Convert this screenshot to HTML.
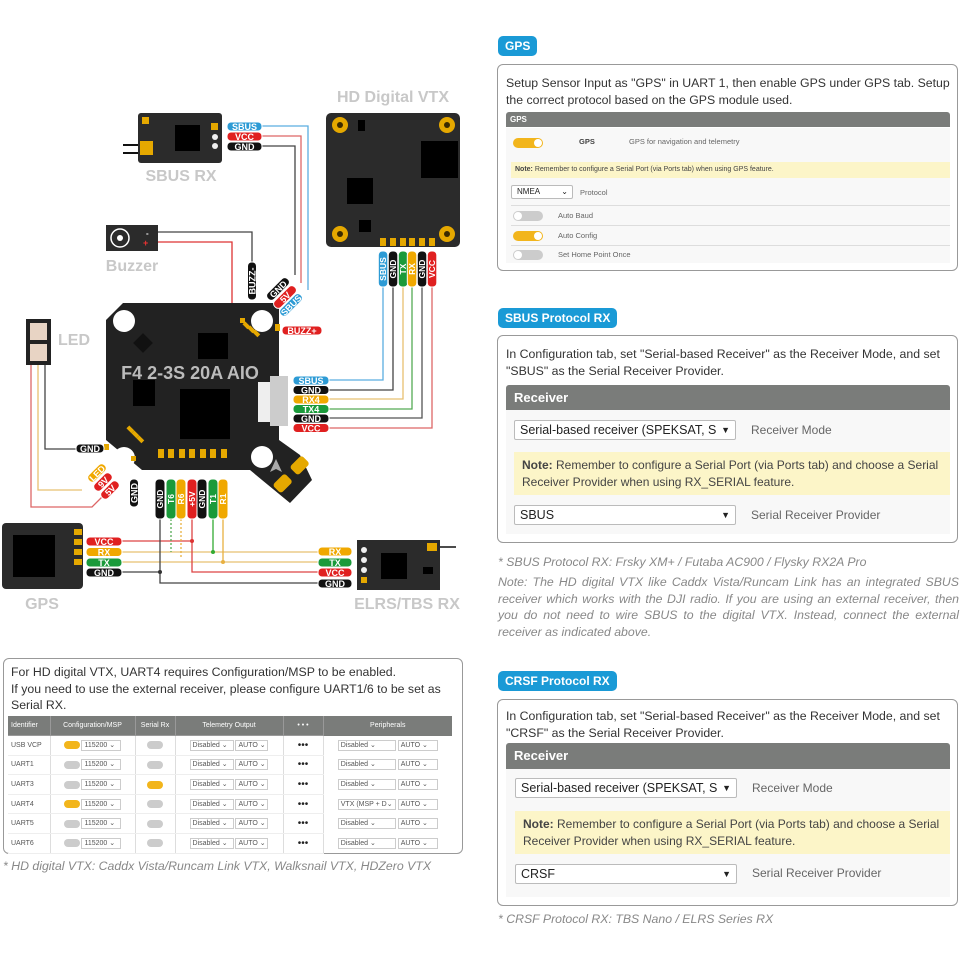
<!DOCTYPE html>
<html><head><meta charset="utf-8">
<style>
*{margin:0;padding:0;box-sizing:border-box}
body{width:960px;height:960px;background:#fff;position:relative;overflow:hidden;font-family:"Liberation Sans",sans-serif;color:#333}
.a{position:absolute}
.badge{position:absolute;background:#1a9ad6;color:#fff;font-weight:bold;font-size:12px;border-radius:5px;padding:3px 7px;line-height:14px}
.box{position:absolute;border:1px solid #999;border-radius:6px;background:#fff}
.p{position:absolute;font-size:12.3px;line-height:16.5px;color:#333}
.hdr{position:absolute;background:#7a7c7a;color:#fff;font-weight:bold;border-radius:3px 3px 0 0}
.sel{position:absolute;border:1px solid #bbb;background:#fff;font-size:12.5px;color:#222;padding-left:5px;border-radius:2px}
.note{position:absolute;background:#fcf5c8;color:#444}
.lbl{position:absolute;color:#666}
.tg{position:absolute;width:30px;height:10px;border-radius:5px;background:#ccc}
.tg.on{background:#f2b51c}
.tg::after{content:"";position:absolute;top:1px;width:8px;height:8px;border-radius:4px;background:#fff;left:1px}
.tg.on::after{left:21px}
.it{position:absolute;font-style:italic;color:#888;font-size:12.3px}
table{border-collapse:collapse;font-size:7px;color:#555;table-layout:fixed}
td{border-right:1px solid #ddd;text-align:center;height:19.6px;border-bottom:1px solid #eee;white-space:nowrap;overflow:hidden;padding:0}
.ms{display:inline-block;border:1px solid #ccc;font-size:7px;padding:0 2px;line-height:10px;height:11px;text-align:left;white-space:nowrap;overflow:hidden;vertical-align:middle}
.st{display:inline-block;width:16px;height:8px;border-radius:4px;background:#ccc;vertical-align:middle;position:relative}
.st.on{background:#f2b51c}
</style></head><body>

<svg class="a" style="left:0;top:0" width="480" height="620" viewBox="0 0 480 620" font-family="Liberation Sans, sans-serif" font-weight="bold">
<g fill="none" stroke-width="1.3">
 <polyline points="262,126 308,126 308,290" stroke="#5aaee0"/>
 <polyline points="262,136 301,136 301,283" stroke="#d66"/>
 <polyline points="262,146 295,146 295,275" stroke="#444"/>
 <polyline points="158,232 252,232 252,262" stroke="#444"/>
 <polyline points="158,242 232,242 232,349 276,349 276,304" stroke="#d33"/>
 <polyline points="329,380 383,380 383,287" stroke="#5aaee0"/>
 <polyline points="329,390 393,390 393,287" stroke="#444"/>
 <polyline points="329,399 403,399 403,287" stroke="#e8c070"/>
 <polyline points="329,409 412,409 412,287" stroke="#5a5"/>
 <polyline points="329,418 422,418 422,287" stroke="#555"/>
 <polyline points="329,428 432,428 432,287" stroke="#d66"/>
 <polyline points="45,365 45,449 76,449" stroke="#444"/>
 <polyline points="38,365 38,490 82,490" stroke="#e8c070"/>
 <polyline points="31,365 31,507 92,507 104,495" stroke="#d66"/>
 <polyline points="122,541 192,541" stroke="#d44"/>
 <polyline points="122,552 318,552" stroke="#e8c070"/>
 <polyline points="122,562 318,562" stroke="#e8c070"/>
 <polyline points="122,572 160,572" stroke="#444"/>
 <polyline points="192,519 192,572 318,572" stroke="#d44"/>
 <polyline points="160,519 160,583 318,583" stroke="#444"/>
 <polyline points="213,519 213,552" stroke="#3a3"/>
 <polyline points="223,519 223,562" stroke="#e8b040"/>
 <line x1="171" y1="519" x2="171" y2="552" stroke="#5a5" stroke-dasharray="2,2"/>
 <line x1="181" y1="519" x2="181" y2="559" stroke="#e8b040" stroke-dasharray="2,2"/>
</g>
<g fill="#333"><circle cx="192" cy="541" r="2" fill="#d33"/><circle cx="160" cy="572" r="2"/><circle cx="213" cy="552" r="2" fill="#3a3"/><circle cx="223" cy="562" r="2" fill="#e8b040"/></g>

<line x1="123" y1="145" x2="142" y2="145" stroke="#111" stroke-width="2"/>
<line x1="123" y1="153" x2="142" y2="153" stroke="#111" stroke-width="2"/>
<rect x="138" y="113" width="84" height="50" rx="3" fill="#2b2b2b"/>
<rect x="140" y="141" width="13" height="14" fill="#e5a800"/>
<rect x="142" y="117" width="7" height="7" fill="#e5a800"/>
<rect x="175" y="125" width="25" height="26" fill="#000"/>
<rect x="211" y="123" width="7" height="7" fill="#e5a800"/>
<circle cx="215" cy="137" r="3" fill="#eee"/><circle cx="215" cy="146" r="3" fill="#eee"/>
<text x="181" y="181" font-size="16" fill="#c8c8c8" text-anchor="middle">SBUS RX</text>

<text x="393" y="102" font-size="16" fill="#c8c8c8" text-anchor="middle">HD Digital VTX</text>
<rect x="326" y="113" width="134" height="134" rx="5" fill="#2b2b2b"/>
<g fill="#e5a800"><circle cx="340" cy="125" r="8"/><circle cx="447" cy="125" r="8"/><circle cx="340" cy="234" r="8"/><circle cx="447" cy="234" r="8"/></g>
<g fill="#3a2a00"><circle cx="340" cy="125" r="3"/><circle cx="447" cy="125" r="3"/><circle cx="340" cy="234" r="3"/><circle cx="447" cy="234" r="3"/></g>
<rect x="421" y="141" width="37" height="37" fill="#000"/>
<rect x="347" y="178" width="26" height="26" fill="#000"/>
<rect x="358" y="120" width="7" height="11" fill="#000"/>
<rect x="359" y="220" width="12" height="12" fill="#000"/>
<g fill="#e5a800"><rect x="380" y="238" width="6" height="8"/><rect x="390" y="238" width="6" height="8"/><rect x="400" y="238" width="6" height="8"/><rect x="409" y="238" width="6" height="8"/><rect x="419" y="238" width="6" height="8"/><rect x="429" y="238" width="6" height="8"/></g>

<rect x="106" y="225" width="52" height="26" fill="#2b2b2b"/>
<circle cx="120" cy="238" r="9" fill="none" stroke="#fff" stroke-width="1.5"/>
<circle cx="120" cy="238" r="3" fill="#fff"/>
<text x="146" y="236" font-size="8" fill="#fff">-</text><text x="143" y="246" font-size="9" fill="#e33">+</text>
<text x="132" y="271" font-size="16" fill="#c8c8c8" text-anchor="middle">Buzzer</text>

<rect x="26" y="319" width="25" height="46" fill="#222"/>
<rect x="30" y="323" width="17" height="17" fill="#e8d4c4"/><rect x="30" y="344" width="17" height="17" fill="#e8d4c4"/>
<text x="58" y="345" font-size="16" fill="#c8c8c8">LED</text>

<polygon points="123,303 279,303 279,440 300,455 312,480 290,503 262,480 250,470 142,470 106,440 106,320" fill="#222"/>
<g fill="#fff"><circle cx="124" cy="321" r="11"/><circle cx="262" cy="321" r="11"/><circle cx="124" cy="458" r="11"/><circle cx="262" cy="457" r="11"/></g>
<rect x="198" y="333" width="30" height="26" fill="#000"/>
<rect x="180" y="389" width="50" height="50" fill="#000"/>
<rect x="133" y="380" width="22" height="26" fill="#000"/>
<rect x="136" y="336" width="14" height="14" fill="#111" transform="rotate(45 143 343)"/>
<rect x="258" y="382" width="12" height="40" fill="#eee"/>
<rect x="270" y="376" width="18" height="50" fill="#ccc"/>
<g fill="#e5a800"><rect x="158" y="449" width="6" height="9"/><rect x="168" y="449" width="6" height="9"/><rect x="179" y="449" width="6" height="9"/><rect x="189" y="449" width="6" height="9"/><rect x="200" y="449" width="6" height="9"/><rect x="210" y="449" width="6" height="9"/><rect x="221" y="449" width="6" height="9"/>
<rect x="294" y="457" width="12" height="17" rx="3" transform="rotate(45 300 465)"/><rect x="277" y="475" width="12" height="17" rx="3" transform="rotate(45 283 483)"/>
<rect x="240" y="318" width="5" height="5"/><rect x="275" y="324" width="5" height="7"/><rect x="104" y="444" width="5" height="6"/><rect x="131" y="456" width="5" height="5"/>
<rect x="244" y="322" width="4" height="7" transform="rotate(-45 246 325)"/><rect x="249" y="326" width="4" height="7" transform="rotate(-45 251 329)"/><rect x="254" y="330" width="4" height="7" transform="rotate(-45 256 333)"/>
<rect x="128" y="426" width="4" height="7" transform="rotate(-45 130 429)"/><rect x="133" y="431" width="4" height="7" transform="rotate(-45 135 434)"/><rect x="138" y="436" width="4" height="7" transform="rotate(-45 140 439)"/></g>
<polygon points="276,459 282,472 276,469 270,472" fill="#aaa"/>
<text x="190" y="379" font-size="18" fill="#bbb" text-anchor="middle">F4 2-3S 20A AIO</text>

<g font-size="9" fill="#fff" text-anchor="middle" stroke-linejoin="round">
 <rect x="227" y="122" width="35" height="9" rx="4" fill="#2d9bd5" stroke="#fff"/><text x="244.5" y="130">SBUS</text>
 <rect x="227" y="132" width="35" height="9" rx="4" fill="#e02020" stroke="#fff"/><text x="244.5" y="140">VCC</text>
 <rect x="227" y="142" width="35" height="9" rx="4" fill="#111" stroke="#fff"/><text x="244.5" y="150">GND</text>

 <rect x="293" y="376" width="36" height="9" rx="4" fill="#2d9bd5" stroke="#fff"/><text x="311" y="384">SBUS</text>
 <rect x="293" y="385.5" width="36" height="9" rx="4" fill="#111" stroke="#fff"/><text x="311" y="393.5">GND</text>
 <rect x="293" y="395" width="36" height="9" rx="4" fill="#f0a800" stroke="#fff"/><text x="311" y="403">RX4</text>
 <rect x="293" y="404.5" width="36" height="9" rx="4" fill="#1a9a3a" stroke="#fff"/><text x="311" y="412.5">TX4</text>
 <rect x="293" y="414" width="36" height="9" rx="4" fill="#111" stroke="#fff"/><text x="311" y="422">GND</text>
 <rect x="293" y="423.5" width="36" height="9" rx="4" fill="#e02020" stroke="#fff"/><text x="311" y="431.5">VCC</text>

 <rect x="86" y="537" width="36" height="9" rx="4" fill="#e02020" stroke="#fff"/><text x="104" y="545">VCC</text>
 <rect x="86" y="547.5" width="36" height="9" rx="4" fill="#f0a800" stroke="#fff"/><text x="104" y="555.5">RX</text>
 <rect x="86" y="558" width="36" height="9" rx="4" fill="#1a9a3a" stroke="#fff"/><text x="104" y="566">TX</text>
 <rect x="86" y="568" width="36" height="9" rx="4" fill="#111" stroke="#fff"/><text x="104" y="576">GND</text>

 <rect x="318" y="547" width="34" height="9" rx="4" fill="#f0a800" stroke="#fff"/><text x="335" y="555">RX</text>
 <rect x="318" y="558" width="34" height="9" rx="4" fill="#1a9a3a" stroke="#fff"/><text x="335" y="566">TX</text>
 <rect x="318" y="568" width="34" height="9" rx="4" fill="#e02020" stroke="#fff"/><text x="335" y="576">VCC</text>
 <rect x="318" y="579" width="34" height="9" rx="4" fill="#111" stroke="#fff"/><text x="335" y="587">GND</text>

 <rect x="76" y="444" width="28" height="9" rx="4" fill="#111" stroke="#fff"/><text x="90" y="452">GND</text>
 <rect x="282" y="326" width="40" height="9" rx="4" fill="#e02020" stroke="#fff"/><text x="302" y="334">BUZZ+</text>

 <g transform="rotate(-90 252 281)"><rect x="233" y="276.5" width="38" height="9" rx="4" fill="#111" stroke="#fff"/><text x="252" y="284.5">BUZZ-</text></g>
 <g transform="rotate(-90 134 493)"><rect x="120" y="488.5" width="28" height="9" rx="4" fill="#111" stroke="#fff"/><text x="134" y="496.5">GND</text></g>

 <g transform="rotate(-45 278 289)"><rect x="264" y="284.5" width="28" height="9" rx="4" fill="#111" stroke="#fff"/><text x="278" y="292.5">GND</text></g>
 <g transform="rotate(-45 285 297)"><rect x="271" y="292.5" width="28" height="9" rx="4" fill="#e02020" stroke="#fff"/><text x="285" y="300.5">5V</text></g>
 <g transform="rotate(-45 291 305)"><rect x="277" y="300.5" width="28" height="9" rx="4" fill="#2d9bd5" stroke="#fff"/><text x="291" y="308.5">SBUS</text></g>

 <g transform="rotate(-45 97 473)"><rect x="86" y="468.5" width="22" height="9" rx="4" fill="#f0a800" stroke="#fff"/><text x="97" y="476.5">LED</text></g>
 <g transform="rotate(-45 103 482)"><rect x="92" y="477.5" width="22" height="9" rx="4" fill="#e02020" stroke="#fff"/><text x="103" y="485.5">9V</text></g>
 <g transform="rotate(-45 110 490)"><rect x="99" y="485.5" width="22" height="9" rx="4" fill="#e02020" stroke="#fff"/><text x="110" y="493.5">5V</text></g>
</g>
<g font-size="8.5" fill="#fff" text-anchor="middle">
 <g transform="rotate(-90 383 269)"><rect x="365" y="264.3" width="36" height="9.5" rx="4" fill="#2d9bd5" stroke="#fff"/><text x="383" y="272">SBUS</text></g>
 <g transform="rotate(-90 393 269)"><rect x="375" y="264.3" width="36" height="9.5" rx="4" fill="#111" stroke="#fff"/><text x="393" y="272">GND</text></g>
 <g transform="rotate(-90 403 269)"><rect x="385" y="264.3" width="36" height="9.5" rx="4" fill="#1a9a3a" stroke="#fff"/><text x="403" y="272">TX</text></g>
 <g transform="rotate(-90 412 269)"><rect x="394" y="264.3" width="36" height="9.5" rx="4" fill="#f0a800" stroke="#fff"/><text x="412" y="272">RX</text></g>
 <g transform="rotate(-90 422 269)"><rect x="404" y="264.3" width="36" height="9.5" rx="4" fill="#111" stroke="#fff"/><text x="422" y="272">GND</text></g>
 <g transform="rotate(-90 432 269)"><rect x="414" y="264.3" width="36" height="9.5" rx="4" fill="#e02020" stroke="#fff"/><text x="432" y="272">VCC</text></g>

 <g transform="rotate(-90 160 499)"><rect x="140" y="494" width="40" height="10" rx="4" fill="#111" stroke="#fff"/><text x="160" y="502">GND</text></g>
 <g transform="rotate(-90 171 499)"><rect x="151" y="494" width="40" height="10" rx="4" fill="#1a9a3a" stroke="#fff"/><text x="171" y="502">T6</text></g>
 <g transform="rotate(-90 181 499)"><rect x="161" y="494" width="40" height="10" rx="4" fill="#f0a800" stroke="#fff"/><text x="181" y="502">R6</text></g>
 <g transform="rotate(-90 192 499)"><rect x="172" y="494" width="40" height="10" rx="4" fill="#e02020" stroke="#fff"/><text x="192" y="502">+5V</text></g>
 <g transform="rotate(-90 202 499)"><rect x="182" y="494" width="40" height="10" rx="4" fill="#111" stroke="#fff"/><text x="202" y="502">GND</text></g>
 <g transform="rotate(-90 213 499)"><rect x="193" y="494" width="40" height="10" rx="4" fill="#1a9a3a" stroke="#fff"/><text x="213" y="502">T1</text></g>
 <g transform="rotate(-90 223 499)"><rect x="203" y="494" width="40" height="10" rx="4" fill="#f0a800" stroke="#fff"/><text x="223" y="502">R1</text></g>
</g>

<rect x="2" y="523" width="81" height="66" rx="4" fill="#2b2b2b"/>
<rect x="13" y="535" width="42" height="42" fill="#000"/>
<g fill="#e5a800"><rect x="74" y="529" width="8" height="6"/><rect x="74" y="539" width="8" height="6"/><rect x="74" y="549" width="8" height="6"/><rect x="74" y="559" width="8" height="6"/></g>
<text x="42" y="609" font-size="16" fill="#c8c8c8" text-anchor="middle">GPS</text>

<line x1="440" y1="547" x2="456" y2="547" stroke="#111" stroke-width="1.5"/>
<rect x="357" y="540" width="83" height="50" fill="#2b2b2b"/>
<rect x="381" y="553" width="26" height="26" fill="#000"/>
<rect x="427" y="543" width="10" height="8" fill="#e5a800"/>
<rect x="423" y="567" width="10" height="7" fill="#000"/>
<g fill="#eee"><circle cx="364" cy="550" r="3"/><circle cx="364" cy="560" r="3"/><circle cx="364" cy="570" r="3"/></g><rect x="361" y="577" width="6" height="6" fill="#e5a800"/>
<text x="407" y="609" font-size="16" fill="#c8c8c8" text-anchor="middle">ELRS/TBS RX</text>
</svg>

<div class="badge" style="left:498px;top:36px">GPS</div>
<div class="box" style="left:497px;top:64px;width:461px;height:207px"></div>
<div class="p" style="left:506px;top:75px;width:450px">Setup Sensor Input as "GPS" in UART 1, then enable GPS under GPS tab. Setup the correct protocol based on the GPS module used.</div>
<div class="hdr" style="left:506px;top:112px;width:444px;height:15px;font-size:8px;padding:3px 4px">GPS</div>
<div class="a" style="left:506px;top:128px;width:444px;height:135px;background:#f8f8f8"></div>
<div class="tg on" style="left:513px;top:138px"></div>
<div class="lbl" style="left:579px;top:137px;font-size:7.5px;font-weight:bold;color:#444">GPS</div>
<div class="lbl" style="left:629px;top:137px;font-size:7.5px">GPS for navigation and telemetry</div>
<div class="note" style="left:511px;top:162px;width:439px;height:16px;font-size:7px;padding:4px 4px">
<b>Note:</b> Remember to configure a Serial Port (via Ports tab) when using GPS feature.</div>
<div class="sel" style="left:511px;top:185px;width:62px;height:14px;font-size:8px;line-height:12px">NMEA <span style="float:right;margin-right:4px">⌄</span></div>
<div class="lbl" style="left:580px;top:188px;font-size:7.5px">Protocol</div>
<div class="a" style="left:511px;top:205px;width:439px;border-top:1px solid #ddd"></div>
<div class="tg" style="left:513px;top:211px"></div><div class="lbl" style="left:558px;top:211px;font-size:7.5px">Auto Baud</div>
<div class="a" style="left:511px;top:225px;width:439px;border-top:1px solid #ddd"></div>
<div class="tg on" style="left:513px;top:231px"></div><div class="lbl" style="left:558px;top:231px;font-size:7.5px">Auto Config</div>
<div class="a" style="left:511px;top:245px;width:439px;border-top:1px solid #ddd"></div>
<div class="tg" style="left:513px;top:250px"></div><div class="lbl" style="left:558px;top:250px;font-size:7.5px">Set Home Point Once</div>

<div class="badge" style="left:498px;top:308px">SBUS Protocol RX</div>
<div class="box" style="left:497px;top:335px;width:461px;height:208px"></div>
<div class="p" style="left:506px;top:346px;width:450px">In Configuration tab, set "Serial-based Receiver" as the Receiver Mode, and set "SBUS" as the Serial Receiver Provider.</div>
<div class="hdr" style="left:506px;top:385px;width:444px;height:25px;font-size:13px;padding:5px 8px">Receiver</div>
<div class="a" style="left:506px;top:410px;width:444px;height:124px;background:#f8f8f8"></div>
<div class="sel" style="left:514px;top:420px;width:222px;height:20px;line-height:18px">Serial-based receiver (SPEKSAT, S<span style="float:right;margin-right:5px;font-size:9px">▼</span></div>
<div class="lbl" style="left:751px;top:423px;font-size:12px">Receiver Mode</div>
<div class="note" style="left:514px;top:452px;width:436px;height:43px;font-size:12px;line-height:16.5px;padding:5px 8px"><b>Note:</b> Remember to configure a Serial Port (via Ports tab) and choose a Serial Receiver Provider when using RX_SERIAL feature.</div>
<div class="sel" style="left:514px;top:505px;width:222px;height:20px;line-height:18px">SBUS<span style="float:right;margin-right:5px;font-size:9px">▼</span></div>
<div class="lbl" style="left:751px;top:508px;font-size:12px">Serial Receiver Provider</div>
<div class="it" style="left:498px;top:555px">* SBUS Protocol RX: Frsky XM+ / Futaba AC900 / Flysky RX2A Pro</div>
<div class="it" style="left:498px;top:574px;width:461px;text-align:justify;line-height:16.5px">Note: The HD digital VTX like Caddx Vista/Runcam Link has an integrated SBUS receiver which works with the DJI radio. If you are using an external receiver, then you do not need to wire SBUS to the digital VTX. Instead, connect the external receiver as indicated above.</div>

<div class="badge" style="left:498px;top:671px">CRSF Protocol RX</div>
<div class="box" style="left:497px;top:699px;width:461px;height:207px"></div>
<div class="p" style="left:506px;top:708px;width:450px">In Configuration tab, set "Serial-based Receiver" as the Receiver Mode, and set "CRSF" as the Serial Receiver Provider.</div>
<div class="hdr" style="left:506px;top:743px;width:444px;height:26px;font-size:13px;padding:5px 8px">Receiver</div>
<div class="a" style="left:506px;top:769px;width:444px;height:128px;background:#f8f8f8"></div>
<div class="sel" style="left:515px;top:778px;width:222px;height:20px;line-height:18px">Serial-based receiver (SPEKSAT, S<span style="float:right;margin-right:5px;font-size:9px">▼</span></div>
<div class="lbl" style="left:752px;top:781px;font-size:12px">Receiver Mode</div>
<div class="note" style="left:515px;top:811px;width:435px;height:43px;font-size:12px;line-height:16.5px;padding:5px 8px"><b>Note:</b> Remember to configure a Serial Port (via Ports tab) and choose a Serial Receiver Provider when using RX_SERIAL feature.</div>
<div class="sel" style="left:515px;top:864px;width:222px;height:20px;line-height:18px">CRSF<span style="float:right;margin-right:5px;font-size:9px">▼</span></div>
<div class="lbl" style="left:752px;top:866px;font-size:12px">Serial Receiver Provider</div>
<div class="it" style="left:498px;top:912px">* CRSF Protocol RX: TBS Nano / ELRS Series RX</div>

<div class="box" style="left:3px;top:658px;width:460px;height:196px"></div>
<div class="p" style="left:11px;top:664px;width:450px;font-size:12.3px">For HD digital VTX, UART4 requires Configuration/MSP to be enabled.<br>If you need to use the external receiver, please configure UART1/6 to be set as Serial RX.</div>
<table class="a" style="left:8px;top:716px;width:444px">
<colgroup><col style="width:42px"><col style="width:85px"><col style="width:40px"><col style="width:108px"><col style="width:40px"><col style="width:129px"></colgroup>
<tr style="background:#7a7c7a;color:#fff"><td style="text-align:left;padding-left:3px;height:14px;border-color:#999">Identifier</td><td style="border-color:#999">Configuration/MSP</td><td style="border-color:#999">Serial Rx</td><td style="border-color:#999">Telemetry Output</td><td style="border-color:#999">• • •</td><td style="border:none">Peripherals</td></tr>
<tr><td style="text-align:left;padding-left:3px">USB VCP</td><td><span class="st on"></span> <span class="ms" style="width:40px">115200 ⌄</span></td><td><span class="st"></span></td><td><span class="ms" style="width:44px">Disabled ⌄</span> <span class="ms" style="width:33px">AUTO ⌄</span></td><td style="font-size:10px;color:#222">•••</td><td style="border:none"><span class="ms" style="width:58px">Disabled ⌄</span> <span class="ms" style="width:40px">AUTO ⌄</span></td></tr>
<tr><td style="text-align:left;padding-left:3px">UART1</td><td><span class="st"></span> <span class="ms" style="width:40px">115200 ⌄</span></td><td><span class="st"></span></td><td><span class="ms" style="width:44px">Disabled ⌄</span> <span class="ms" style="width:33px">AUTO ⌄</span></td><td style="font-size:10px;color:#222">•••</td><td style="border:none"><span class="ms" style="width:58px">Disabled ⌄</span> <span class="ms" style="width:40px">AUTO ⌄</span></td></tr>
<tr><td style="text-align:left;padding-left:3px">UART3</td><td><span class="st"></span> <span class="ms" style="width:40px">115200 ⌄</span></td><td><span class="st on"></span></td><td><span class="ms" style="width:44px">Disabled ⌄</span> <span class="ms" style="width:33px">AUTO ⌄</span></td><td style="font-size:10px;color:#222">•••</td><td style="border:none"><span class="ms" style="width:58px">Disabled ⌄</span> <span class="ms" style="width:40px">AUTO ⌄</span></td></tr>
<tr><td style="text-align:left;padding-left:3px">UART4</td><td><span class="st on"></span> <span class="ms" style="width:40px">115200 ⌄</span></td><td><span class="st"></span></td><td><span class="ms" style="width:44px">Disabled ⌄</span> <span class="ms" style="width:33px">AUTO ⌄</span></td><td style="font-size:10px;color:#222">•••</td><td style="border:none"><span class="ms" style="width:58px">VTX (MSP + D⌄</span> <span class="ms" style="width:40px">AUTO ⌄</span></td></tr>
<tr><td style="text-align:left;padding-left:3px">UART5</td><td><span class="st"></span> <span class="ms" style="width:40px">115200 ⌄</span></td><td><span class="st"></span></td><td><span class="ms" style="width:44px">Disabled ⌄</span> <span class="ms" style="width:33px">AUTO ⌄</span></td><td style="font-size:10px;color:#222">•••</td><td style="border:none"><span class="ms" style="width:58px">Disabled ⌄</span> <span class="ms" style="width:40px">AUTO ⌄</span></td></tr>
<tr><td style="text-align:left;padding-left:3px">UART6</td><td><span class="st"></span> <span class="ms" style="width:40px">115200 ⌄</span></td><td><span class="st"></span></td><td><span class="ms" style="width:44px">Disabled ⌄</span> <span class="ms" style="width:33px">AUTO ⌄</span></td><td style="font-size:10px;color:#222">•••</td><td style="border:none"><span class="ms" style="width:58px">Disabled ⌄</span> <span class="ms" style="width:40px">AUTO ⌄</span></td></tr>
</table>
<div class="it" style="left:3px;top:859px">* HD digital VTX: Caddx Vista/Runcam Link VTX, Walksnail VTX, HDZero VTX</div>
</body></html>
